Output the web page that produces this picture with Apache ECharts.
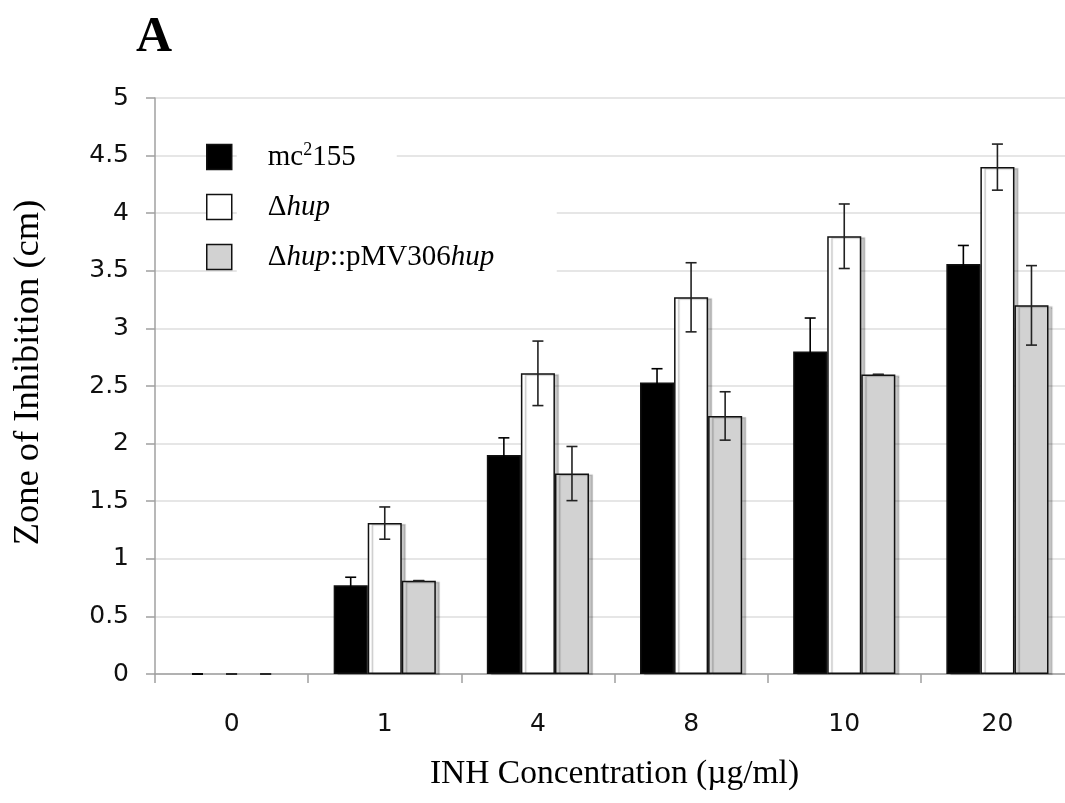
<!DOCTYPE html>
<html>
<head>
<meta charset="utf-8">
<script src="https://cdn.jsdelivr.net/npm/echarts@6/dist/echarts.min.js"></script>
<style>
html,body{margin:0;padding:0;background:#fff;overflow:hidden;}
#chart{width:1065px;height:803px;}
</style>
</head>
<body>
<div id="chart"></div>
<script>
var categories = ['0', '1', '4', '8', '10', '20'];
var seriesNames = ['mc2155', 'Δhup', 'Δhup::pMV306hup'];
var mc2155 = [0, 0.77, 1.90, 2.53, 2.80, 3.56];
var mc2155Err = [0, 0.07, 0.15, 0.12, 0.29, 0.16];
var hup = [0, 1.31, 2.61, 3.27, 3.80, 4.40];
var hupErr = [0, 0.14, 0.28, 0.30, 0.28, 0.20];
var comp = [0, 0.81, 1.74, 2.24, 2.60, 3.20];
var compErr = [0, 0, 0.235, 0.21, 0, 0.345];
var yTicks = [0, 0.5, 1, 1.5, 2, 2.5, 3, 3.5, 4, 4.5, 5];

var GAP = 0.333;
var values = [mc2155, hup, comp];
var errs = [mc2155Err, hupErr, compErr];
var colors = ['#000000', '#ffffff', '#d2d2d2'];
var errColors = ['#000000', '#222222', '#222222'];

var chart = echarts.init(document.getElementById('chart'), null, {renderer: 'canvas'});

var series = [];
values.forEach(function (vals, i) {
  series.push({
    name: seriesNames[i],
    type: 'bar',
    data: vals.map(function (v) { return v === 0 ? '-' : v; }),
    barGap: '0%',
    barCategoryGap: (GAP * 100) + '%',
    itemStyle: {
      color: colors[i],
      borderColor: '#111',
      borderWidth: 1.5,
      shadowColor: 'rgba(0,0,0,0.22)',
      shadowOffsetX: 4,
      shadowOffsetY: 1,
      shadowBlur: 1
    },
    emphasis: {disabled: true},
    z: 2
  });
});
values.forEach(function (vals, i) {
  series.push({
    type: 'custom',
    name: 'err' + i,
    z: 5,
    silent: true,
    encode: {x: 0, y: 1},
    data: vals.map(function (v, k) { return [k, v, errs[i][k]]; }),
    renderItem: function (params, api) {
      var c = api.value(0), v = api.value(1), e = api.value(2);
      var base = api.coord([c, v]);
      var band = api.size([1, 0])[0];
      var bw = band * (1 - GAP) / 3;
      var cx = base[0] + (i - 1) * bw;
      var hi = api.coord([c, v + e])[1];
      var lo = api.coord([c, v - e])[1];
      var hw = 5.5;
      var st = {stroke: errColors[i], lineWidth: 1.6};
      return {
        type: 'group',
        children: [
          {type: 'line', shape: {x1: cx, y1: hi, x2: cx, y2: lo}, style: st},
          {type: 'line', shape: {x1: cx - hw, y1: hi, x2: cx + hw, y2: hi}, style: st},
          {type: 'line', shape: {x1: cx - hw, y1: lo, x2: cx + hw, y2: lo}, style: st}
        ]
      };
    }
  });
});

var serif = '"Liberation Serif", "Times New Roman", serif';
var sans = '"DejaVu Sans", Verdana, sans-serif';

var option = {
  backgroundColor: '#ffffff',
  animation: false,
  title: {
    text: 'A',
    left: 131,
    top: 8,
    textStyle: {fontFamily: serif, fontSize: 50, fontWeight: 'bold', color: '#000'}
  },
  legend: {
    left: 201,
    top: 134,
    orient: 'vertical',
    icon: 'rect',
    itemWidth: 25,
    itemHeight: 25,
    itemGap: 14,
    selectedMode: false,
    itemStyle: {borderColor: '#111', borderWidth: 1.5, shadowColor: 'transparent', shadowBlur: 0, shadowOffsetX: 0, shadowOffsetY: 0},
    data: [
      {name: seriesNames[0], textStyle: {width: 125}},
      {name: seriesNames[1], textStyle: {width: 285}},
      {name: seriesNames[2], textStyle: {width: 285}}
    ],
    formatter: function (name) {
      if (name === seriesNames[0]) return '{r|mc}{s|2}{r|155}';
      if (name === seriesNames[1]) return '{r|Δ}{i|hup}';
      return '{r|Δ}{i|hup}{r|::pMV306}{i|hup}';
    },
    textStyle: {
      fontFamily: serif,
      fontSize: 29,
      color: '#000',
      backgroundColor: '#ffffff',
      padding: [2, 4, 2, 31],
      rich: {
        r: {fontFamily: serif, fontSize: 29, color: '#000', lineHeight: 32},
        i: {fontFamily: serif, fontSize: 29, fontStyle: 'italic', color: '#000', lineHeight: 32},
        s: {fontFamily: serif, fontSize: 18, color: '#000', verticalAlign: 'top', lineHeight: 32, padding: [0, 0, 12, 0]}
      }
    }
  },
  grid: {left: 155, top: 98, width: 919, height: 576, containLabel: false, outerBoundsMode: 'none'},
  xAxis: {
    type: 'category',
    data: categories,
    name: 'INH Concentration (µg/ml)',
    nameLocation: 'middle',
    nameGap: 83,
    nameTextStyle: {fontFamily: serif, fontSize: 33.5, color: '#000'},
    axisLine: {lineStyle: {color: '#a0a0a0', width: 1.5}},
    axisTick: {show: true, length: 9, lineStyle: {color: '#a0a0a0', width: 1.5}},
    axisLabel: {fontFamily: sans, fontSize: 25, color: '#111', margin: 38},
    splitLine: {show: false}
  },
  yAxis: {
    type: 'value',
    min: 0,
    max: 5,
    interval: 0.5,
    name: 'Zone of Inhibition (cm)',
    nameLocation: 'middle',
    nameGap: 108,
    nameTextStyle: {fontFamily: serif, fontSize: 36.5, color: '#000', padding: [0, 0, 0, 27]},
    axisLine: {show: true, lineStyle: {color: '#a0a0a0', width: 1.5}},
    axisTick: {show: true, length: 9, lineStyle: {color: '#a0a0a0', width: 1.5}},
    axisLabel: {
      fontFamily: sans, fontSize: 25, color: '#111', margin: 26,
      formatter: function (v) { return yTicks.indexOf(v) >= 0 ? String(v) : ''; }
    },
    splitLine: {show: true, lineStyle: {color: '#dedede', width: 1.5}}
  },
  series: series
};
chart.setOption(option);
</script>
</body>
</html>
